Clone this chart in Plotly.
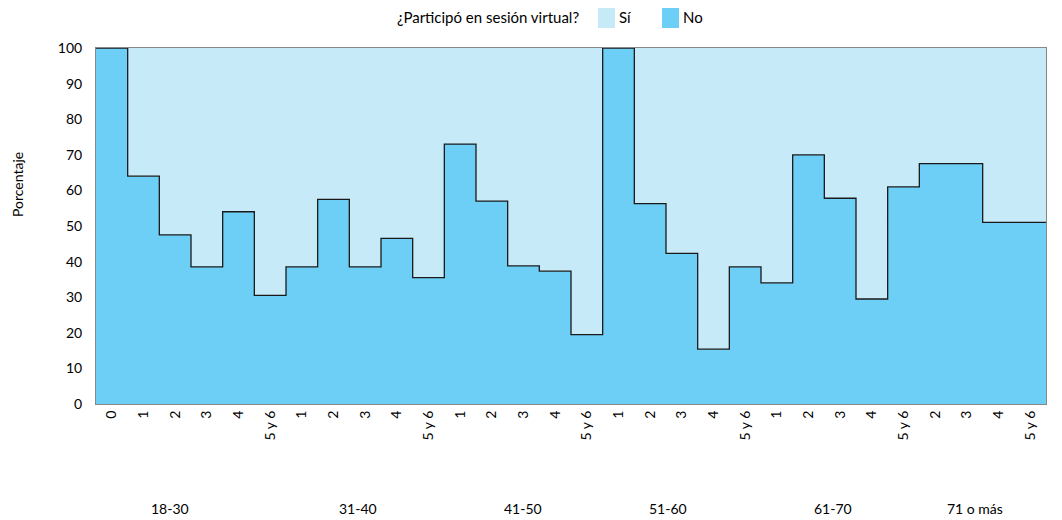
import plotly.graph_objects as go

# Data
tick_labels = ["0", "1", "2", "3", "4", "5 y 6",
               "1", "2", "3", "4", "5 y 6",
               "1", "2", "3", "4", "5 y 6",
               "1", "2", "3", "4", "5 y 6",
               "1", "2", "3", "4", "5 y 6",
               "2", "3", "4", "5 y 6"]
groups = ["18-30", "31-40", "41-50", "51-60", "61-70", "71 o más"]
group_pos = [1.84, 7.77, 12.98, 17.56, 22.77, 27.26]

no_pct = [100, 64, 47.5, 38.5, 54, 30.5,
          38.5, 57.5, 38.5, 46.5, 35.5,
          73, 57, 38.8, 37.3, 19.5,
          100, 56.3, 42.3, 15.4, 38.5,
          34, 70, 57.8, 29.5, 61,
          67.5, 67.5, 51, 51]
si_pct = [0, 36, 52.5, 61.5, 46, 69.5,
          61.5, 42.5, 61.5, 53.5, 64.5,
          27, 43, 61.2, 62.7, 80.5,
          0, 43.7, 57.7, 84.6, 61.5,
          66, 30, 42.2, 70.5, 39,
          32.5, 32.5, 49, 49]

legend_title = "¿Participó en sesión virtual?"
legend_names = ["Sí", "No"]

FONT = "Lato"
C_NO = "#6DCFF6"
C_SI = "#C7EAF9"
legend_colors = [C_SI, C_NO]

# plot area in page pixels: x 96..1046, y 48..404 (page body has an 8px offset)
PX0, PX1, PY0, PY1 = 96, 1046, 48, 404
OFF = 8
W, H = 1062 - OFF, 520 - OFF


def px(xp):
    return (xp - PX0) / (PX1 - PX0)


def py(yp):
    return (PY1 - yp) / (PY1 - PY0)


n = len(no_pct)
edges = [i - 0.5 for i in range(n)] + [n - 0.5]
y_no = no_pct + [no_pct[-1]]
y_si = si_pct + [si_pct[-1]]

fig = go.Figure()
fig.add_trace(go.Scatter(x=edges, y=y_no, stackgroup="one", line_shape="hv",
                         mode="lines", line=dict(color="#1a1a1a", width=1.3),
                         fillcolor=C_NO, showlegend=False, hoverinfo="skip", name="No"))
fig.add_trace(go.Scatter(x=edges, y=y_si, stackgroup="one", line_shape="hv",
                         mode="lines", line=dict(width=0),
                         fillcolor=C_SI, showlegend=False, hoverinfo="skip", name="Sí"))

for g, p in zip(groups, group_pos):
    fig.add_annotation(x=p, y=py(508), xref="x", yref="paper", text=g,
                       showarrow=False, font=dict(family=FONT, size=14, color="#000"),
                       xanchor="center", yanchor="middle")

fig.add_annotation(x=px(17), y=py(185), xref="paper", yref="paper", text="Porcentaje",
                   textangle=-90, showarrow=False, xanchor="center", yanchor="middle",
                   font=dict(family=FONT, size=14, color="#000"))

# manual legend
fig.add_annotation(x=px(581), y=py(17), xref="paper", yref="paper", text=legend_title,
                   showarrow=False, xanchor="right", yanchor="middle",
                   font=dict(family=FONT, size=15, color="#000"))
sw_x = [598, 662]
for name, col, sx in zip(legend_names, legend_colors, sw_x):
    fig.add_shape(type="rect", xref="paper", yref="paper",
                  x0=px(sx), x1=px(sx + 17), y0=py(28), y1=py(7),
                  fillcolor=col, line=dict(width=0))
    fig.add_annotation(x=px(sx + 19), y=py(17), xref="paper", yref="paper", text=name,
                       showarrow=False, xanchor="left", yanchor="middle",
                       font=dict(family=FONT, size=15, color="#000"))

fig.update_layout(
    width=W, height=H,
    margin=dict(l=PX0 - OFF, r=W - (PX1 - OFF), t=PY0 - OFF, b=H - (PY1 - OFF),
                autoexpand=False),
    paper_bgcolor="white", plot_bgcolor="white",
    font=dict(family=FONT, size=14, color="#000"),
    showlegend=False,
    xaxis=dict(range=[-0.5, n - 0.5], tickmode="array", tickvals=list(range(n)),
               ticktext=tick_labels, tickangle=-90, showgrid=False, zeroline=False,
               showline=True, linecolor="#888", linewidth=1, mirror=True, ticks="",
               ticklabelstandoff=0, tickfont=dict(family=FONT, size=14)),
    yaxis=dict(range=[0, 100], tickvals=list(range(0, 101, 10)), showgrid=False,
               zeroline=False, showline=True, linecolor="#888", linewidth=1, mirror=True,
               ticks="", ticklabelstandoff=10, tickfont=dict(family=FONT, size=14)),
)

fig.write_html("out.html")
